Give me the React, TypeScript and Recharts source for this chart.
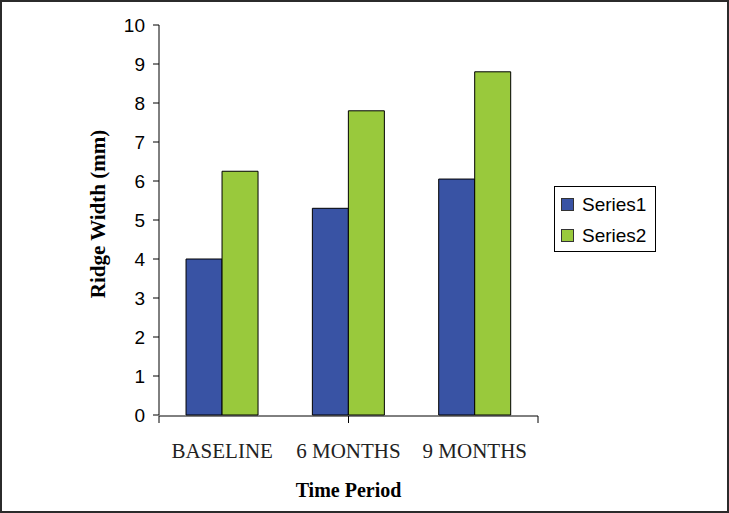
import React from "react";
import { BarChart, Bar, XAxis, YAxis, Legend, Label } from "recharts";

const categories = ["BASELINE", "6 MONTHS", "9 MONTHS"];
const series1 = [4.0, 5.3, 6.05];
const series2 = [6.25, 7.8, 8.8];
const yTicks = [0, 1, 2, 3, 4, 5, 6, 7, 8, 9, 10];
const boundaryTicks = [0, 1, 2, 3];

const BLUE = "#3953a4";
const GREEN = "#99c93c";
const SANS = "'Liberation Sans', Arial, sans-serif";
const SERIF = "'Liberation Serif', 'Times New Roman', serif";

const data = categories.map((name, i) => ({ name, s1: series1[i], s2: series2[i] }));

// boxed legend like the excel one
const LegendBox = (props: any) => {
    const items = props.payload || [];
    return (
        <div
            style={{
                width: 102,
                height: 66,
                boxSizing: "border-box",
                border: "1px solid #000",
                background: "#fff",
                paddingTop: 2,
                paddingLeft: 6,
                fontFamily: SANS,
                fontSize: 19,
                color: "#000",
            }}
        >
            {items.map((it: any) => (
                <div key={it.value} style={{ display: "flex", alignItems: "center", height: 31 }}>
                    <span
                        style={{
                            display: "inline-block",
                            width: 13,
                            height: 13,
                            boxSizing: "border-box",
                            background: it.color,
                            border: "1px solid #333",
                            marginRight: 8,
                        }}
                    />
                    <span>{it.value}</span>
                </div>
            ))}
        </div>
    );
};

const YTitle = (props: any) => {
    const vb = props.viewBox || { x: 0, y: 0, width: 0, height: 0 };
    const cx = vb.x - 1;
    const cy = vb.y + vb.height / 2 - 6;
    return (
        <text
            x={cx}
            y={cy}
            transform={`rotate(-90 ${cx} ${cy})`}
            textAnchor="middle"
            dominantBaseline="central"
            fontFamily={SERIF}
            fontWeight="bold"
            fontSize={21}
            fill="#000"
        >
            Ridge Width (mm)
        </text>
    );
};

export default function App() {
    return (
        <div style={{ position: "absolute", left: 0, top: 0, width: 729, height: 513, background: "#fff" }}>
            <BarChart
                width={729}
                height={513}
                data={data}
                margin={{ top: 25, right: 191, bottom: 96, left: 99 }}
                barCategoryGap="21.4%"
                barGap={0}
            >
                {/* boundary ticks between categories, excel style */}
                <XAxis
                    xAxisId="grid"
                    type="number"
                    domain={[0, 3]}
                    allowDataOverflow
                    ticks={boundaryTicks}
                    interval={0}
                    tickFormatter={() => ""}
                    tick={{ fontSize: 1 }}
                    tickSize={7}
                    tickLine={{ stroke: "#000" }}
                    axisLine={{ stroke: "#000" }}
                    height={1}
                />
                <XAxis
                    xAxisId="cat"
                    dataKey="name"
                    height={1}
                    interval={0}
                    tickLine={false}
                    tickSize={7}
                    tickMargin={21}
                    axisLine={false}
                    tick={{ fill: "#222", fontSize: 21, fontFamily: SERIF }}
                >
                    <Label
                        value="Time Period"
                        position="bottom"
                        offset={67}
                        fill="#000"
                        fontFamily={SERIF}
                        fontWeight="bold"
                        fontSize={20}
                    />
                </XAxis>
                <YAxis
                    width={60}
                    domain={[0, 10]}
                    ticks={yTicks}
                    interval={0}
                    tickSize={6}
                    tickMargin={8}
                    axisLine={{ stroke: "#000" }}
                    tickLine={{ stroke: "#000" }}
                    tick={{ fill: "#000", fontSize: 19, fontFamily: SANS }}
                >
                    <Label content={YTitle} />
                </YAxis>
                <Legend
                    layout="horizontal"
                    align="center"
                    verticalAlign="middle"
                    wrapperStyle={{ left: 554, top: 186, width: 102, height: 66 }}
                    content={LegendBox}
                />
                <Bar
                    xAxisId="cat"
                    dataKey="s1"
                    name="Series1"
                    fill={BLUE}
                    stroke="#000"
                    strokeWidth={1}
                    isAnimationActive={false}
                />
                <Bar
                    xAxisId="cat"
                    dataKey="s2"
                    name="Series2"
                    fill={GREEN}
                    stroke="#000"
                    strokeWidth={1}
                    isAnimationActive={false}
                />
            </BarChart>
            <div
                style={{
                    position: "absolute",
                    left: 0,
                    top: 0,
                    width: 729,
                    height: 513,
                    boxSizing: "border-box",
                    border: "2px solid #2b2b2b",
                    pointerEvents: "none",
                }}
            />
        </div>
    );
}
